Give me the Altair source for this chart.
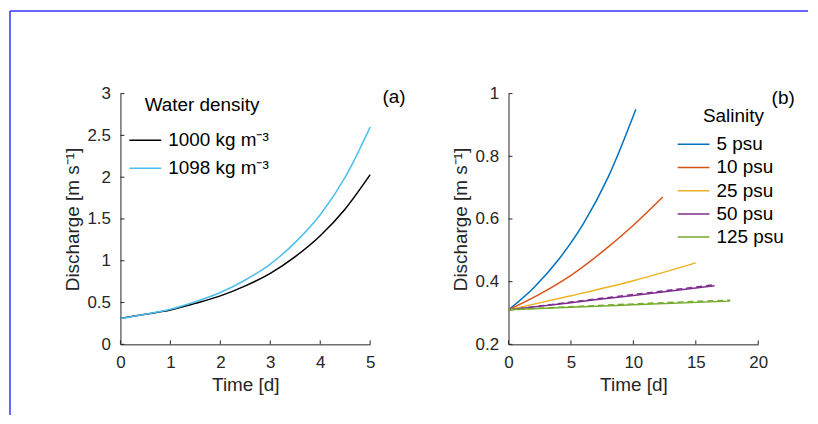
import altair as alt
import pandas as pd

FONT = "Liberation Sans"
AXC = "#262626"

# ---------------- Panel (a) data ----------------
t_a = [0, 0.5, 1, 1.5, 2, 2.5, 3, 3.5, 4, 4.5, 5]
q_1000 = [0.31, 0.36, 0.41, 0.49, 0.58, 0.70, 0.85, 1.05, 1.30, 1.62, 2.03]
q_1098 = [0.31, 0.36, 0.42, 0.51, 0.62, 0.77, 0.96, 1.22, 1.55, 2.00, 2.60]
density_labels = ["1000 kg m\u207b\u00b3", "1098 kg m\u207b\u00b3"]
density_colors = ["#000000", "#4DBEEE"]
xticks_a = [0, 1, 2, 3, 4, 5]
yticks_a = [0, 0.5, 1, 1.5, 2, 2.5, 3]

# ---------------- Panel (b) data ----------------
salinity_labels = ["5 psu", "10 psu", "25 psu", "50 psu", "125 psu"]
salinity_colors = ["#0072BD", "#D95319", "#EDB120", "#7E2F8E", "#77AC30"]
t_5 = [0, 2, 4, 6, 8, 10.2]
q_5 = [0.31, 0.38, 0.47, 0.585, 0.735, 0.95]
t_10 = [0, 2.5, 5, 7.5, 10, 12.35]
q_10 = [0.31, 0.36, 0.42, 0.495, 0.58, 0.67]
t_25 = [0, 5, 10, 15]
q_25 = [0.31, 0.355, 0.403, 0.46]
t_50 = [0, 5, 10, 16.5]
q_50 = [0.31, 0.333, 0.356, 0.387]
t_125 = [0, 5, 10, 17.75]
q_125 = [0.31, 0.318, 0.326, 0.338]
# dashed companion curves for 50 and 125 psu
t_50d = [0, 5, 10, 16.5]
q_50d = [0.31, 0.335, 0.359, 0.390]
t_125d = [0, 5, 10, 17.75]
q_125d = [0.31, 0.320, 0.329, 0.341]
xticks_b = [0, 5, 10, 15, 20]
yticks_b = [0.2, 0.4, 0.6, 0.8, 1.0]

W, H = 251, 252

df_a = pd.DataFrame(
    [{"t": t, "q": q, "s": density_labels[0]} for t, q in zip(t_a, q_1000)]
    + [{"t": t, "q": q, "s": density_labels[1]} for t, q in zip(t_a, q_1098)]
)
rows_b = []
for lab, ts, qs in zip(salinity_labels, [t_5, t_10, t_25, t_50, t_125], [q_5, q_10, q_25, q_50, q_125]):
    rows_b += [{"t": t, "q": q, "s": lab} for t, q in zip(ts, qs)]
df_b = pd.DataFrame(rows_b)
rows_bd = []
for lab, ts, qs in zip(["50 psu", "125 psu"], [t_50d, t_125d], [q_50d, q_125d]):
    rows_bd += [{"t": t, "q": q, "s": lab} for t, q in zip(ts, qs)]
df_bd = pd.DataFrame(rows_bd)


def axis(values, title):
    return alt.Axis(values=values, title=title, tickSize=0, grid=False,
                    labelFont=FONT, labelFontSize=17, labelColor=AXC,
                    titleFont=FONT, titleFontSize=19, titleColor=AXC, titleFontWeight="normal",
                    domainColor=AXC, domainWidth=1, labelPadding=10, titlePadding=5,
                    format="~g", labelFlush=False, labelOverlap=False)


def legend(title, lx, ly, tpad, rpad, loff):
    return alt.Legend(orient="none", legendX=lx, legendY=ly, title=title, padding=0,
                      titleFont=FONT, titleFontSize=19, titleFontWeight="normal", titleColor="#000000",
                      titleAnchor="middle", titlePadding=tpad,
                      labelFont=FONT, labelFontSize=19, labelColor="#000000", labelOffset=loff,
                      symbolType="M-1.6,0H1.6", symbolSize=400, symbolStrokeWidth=1.5, rowPadding=rpad)


def ticks(xvals, yvals, xscale, yscale, xaxis, yaxis):
    tx = alt.Chart(pd.DataFrame({"t": xvals})).mark_rule(color=AXC, strokeWidth=1).encode(
        x=alt.X("t:Q", scale=xscale, axis=xaxis), y=alt.value(H), y2=alt.value(H - 4))
    ty = alt.Chart(pd.DataFrame({"q": yvals})).mark_rule(color=AXC, strokeWidth=1).encode(
        y=alt.Y("q:Q", scale=yscale, axis=yaxis), x=alt.value(0), x2=alt.value(4))
    return tx, ty


# ---------- panel a ----------
xs_a = alt.Scale(domain=[0, 5], nice=False)
ys_a = alt.Scale(domain=[0, 3], nice=False)
xa_a = axis(xticks_a, "Time [d]")
ya_a = axis(yticks_a, "Discharge [m s\u207b\u00b9]")
lines_a = alt.Chart(df_a).mark_line(strokeWidth=1.5, interpolate="monotone").encode(
    x=alt.X("t:Q", scale=xs_a, axis=xa_a),
    y=alt.Y("q:Q", scale=ys_a, axis=ya_a),
    color=alt.Color("s:N", scale=alt.Scale(domain=density_labels, range=density_colors),
                    legend=legend("Water density", 14, 2, 15, 7, 12)),
)
tx_a, ty_a = ticks(xticks_a, yticks_a, xs_a, ys_a, xa_a, ya_a)
lab_a = alt.Chart(pd.DataFrame({"p": ["(a)"]})).mark_text(
    font=FONT, fontSize=19, color="#000000", align="center", baseline="middle").encode(
    text="p:N", x=alt.value(W + 24), y=alt.value(3))
border_top = alt.Chart(pd.DataFrame({"p": [0]})).mark_rule(color="#3434ff", strokeWidth=1.5).encode(
    x=alt.value(-111), x2=alt.value(691), y=alt.value(-83))
border_left = alt.Chart(pd.DataFrame({"p": [0]})).mark_rule(color="#3434ff", strokeWidth=1.5).encode(
    x=alt.value(-111), y=alt.value(-83), y2=alt.value(323))
panel_a = alt.layer(lines_a, tx_a, ty_a, lab_a, border_top, border_left).properties(width=W, height=H)

# ---------- panel b ----------
xs_b = alt.Scale(domain=[0, 20], nice=False)
ys_b = alt.Scale(domain=[0.2, 1.0], nice=False)
xa_b = axis(xticks_b, "Time [d]")
ya_b = axis(yticks_b, "Discharge [m s\u207b\u00b9]")
cs_b = alt.Scale(domain=salinity_labels, range=salinity_colors)
lines_b = alt.Chart(df_b).mark_line(strokeWidth=1.5, interpolate="monotone").encode(
    x=alt.X("t:Q", scale=xs_b, axis=xa_b),
    y=alt.Y("q:Q", scale=ys_b, axis=ya_b),
    color=alt.Color("s:N", scale=cs_b, legend=legend("Salinity", 175, 14, 7, 2.3, 12), sort=salinity_labels),
)
dash_b = alt.Chart(df_bd).mark_line(strokeWidth=1.5, strokeDash=[6, 4], interpolate="monotone").encode(
    x=alt.X("t:Q", scale=xs_b, axis=xa_b),
    y=alt.Y("q:Q", scale=ys_b, axis=ya_b),
    color=alt.Color("s:N", scale=cs_b, legend=None),
)
tx_b, ty_b = ticks(xticks_b, yticks_b, xs_b, ys_b, xa_b, ya_b)
lab_b = alt.Chart(pd.DataFrame({"p": ["(b)"]})).mark_text(
    font=FONT, fontSize=19, color="#000000", align="center", baseline="middle").encode(
    text="p:N", x=alt.value(W + 25), y=alt.value(4))
panel_b = alt.layer(lines_b, dash_b, tx_b, ty_b, lab_b).properties(width=W, height=H)

chart = alt.hconcat(panel_a, panel_b, spacing=139, bounds="flush").resolve_scale(
    color="independent", x="independent", y="independent").configure_view(
    stroke="transparent").properties(padding=0, background="#ffffff")

chart.save("out.html", embed_options={"renderer": "svg", "actions": False})
